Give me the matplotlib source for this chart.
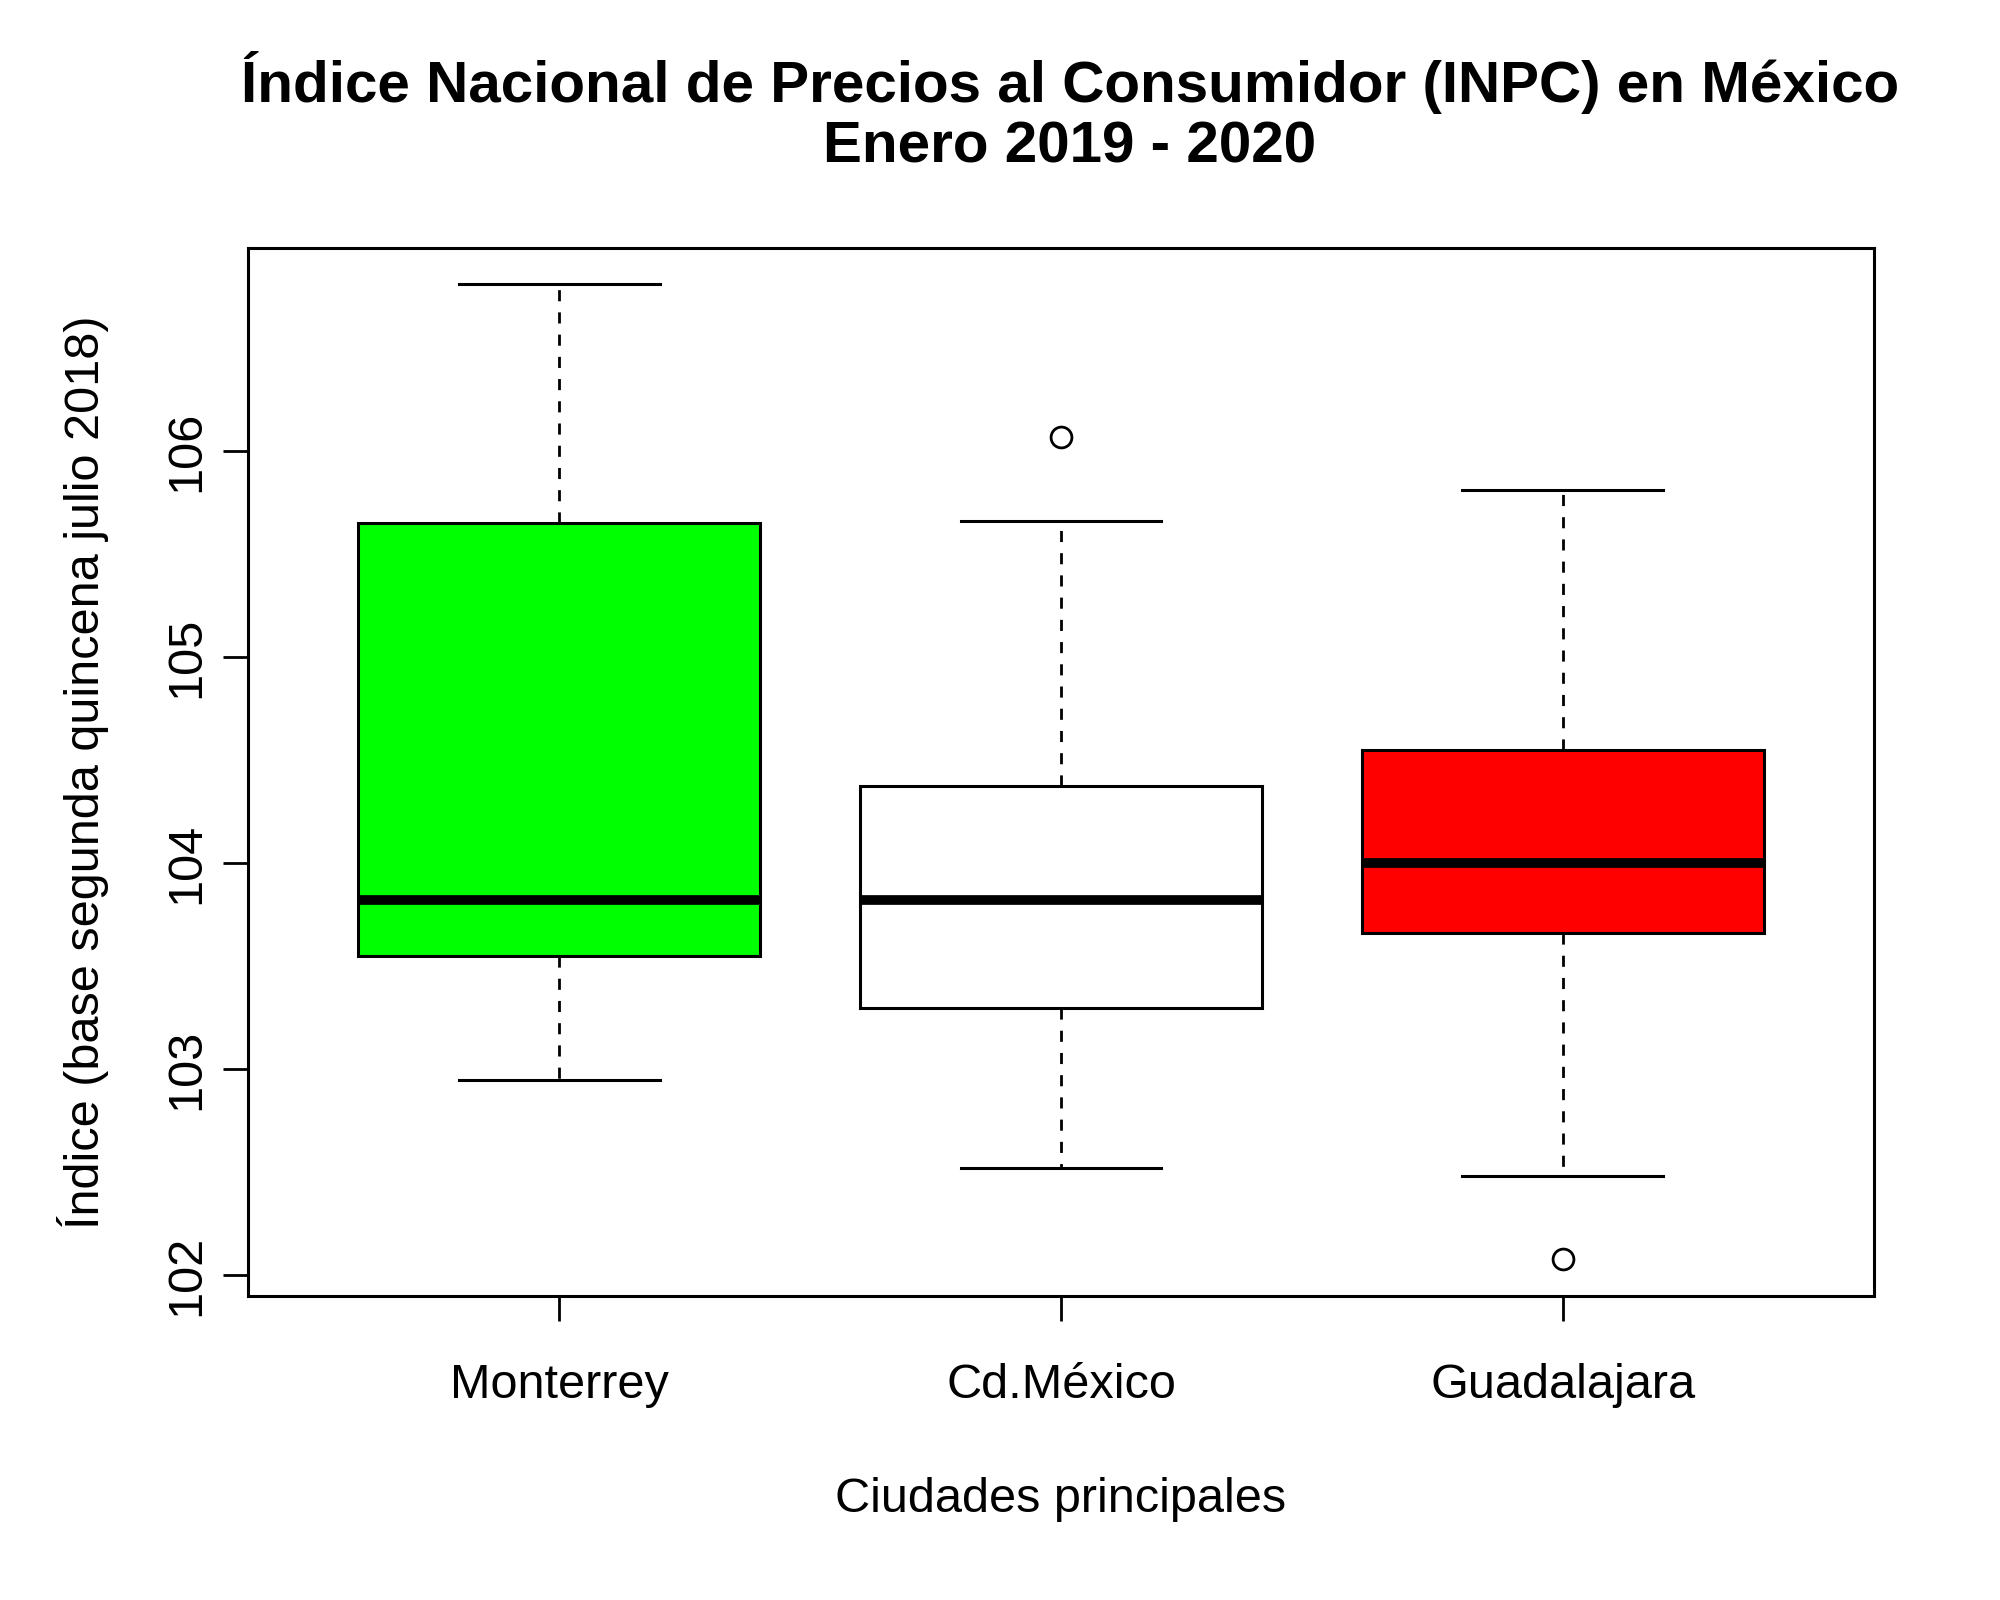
import matplotlib
matplotlib.use("Agg")
import matplotlib.pyplot as plt

plt.rcParams['font.family'] = ['Liberation Sans', 'DejaVu Sans']

cities = ["Monterrey", "Cd.México", "Guadalajara"]
whislo = [102.95, 102.52, 102.48]
q1 = [103.55, 103.30, 103.66]
med = [103.82, 103.82, 104.00]
q3 = [105.65, 104.375, 104.55]
whishi = [106.81, 105.66, 105.81]
fliers = [[], [106.07], [102.08]]
colors = ["#00FF00", "#FFFFFF", "#FF0000"]

stats = [dict(label=c, whislo=a, q1=b, med=m, q3=d, whishi=e, fliers=f)
         for c, a, b, m, d, e, f in zip(cities, whislo, q1, med, q3, whishi, fliers)]

fig = plt.figure(figsize=(20, 16), dpi=100)
ax = fig.add_axes([0.124, 0.19, 0.813, 0.655])
bp = ax.bxp(stats, positions=[1, 2, 3], widths=0.8, patch_artist=True,
            boxprops=dict(linewidth=2.2, edgecolor='black'),
            medianprops=dict(color='black', linewidth=7),
            whiskerprops=dict(linestyle=(0, (4, 4)), linewidth=2, color='black'),
            capprops=dict(linewidth=2.2, color='black'),
            flierprops=dict(marker='o', markerfacecolor='none', markeredgecolor='black',
                            markersize=15, markeredgewidth=2),
            capwidths=0.4)
for p, c in zip(bp['boxes'], colors):
    p.set_facecolor(c)
ax.set_xlim(0.38, 3.62)
ax.set_ylim(101.90, 106.986)
ax.set_yticks([102, 103, 104, 105, 106])
ax.set_yticklabels(['102', '103', '104', '105', '106'], rotation=90, va='center')
ax.tick_params(labelsize=35, width=2, length=18, pad=10)
ax.tick_params(axis='x', pad=30)
for s in ax.spines.values():
    s.set_linewidth(2.2)
ax.set_xlabel("Ciudades principales", fontsize=35, labelpad=50)
ax.set_ylabel("Índice (base segunda quincena julio 2018)", fontsize=35, labelpad=40)
fig.suptitle("Índice Nacional de Precios al Consumidor (INPC) en México\nEnero 2019 - 2020",
             fontsize=42, fontweight='bold', x=0.535, y=0.968, linespacing=1.15)
fig.savefig("out.png", dpi=100)
